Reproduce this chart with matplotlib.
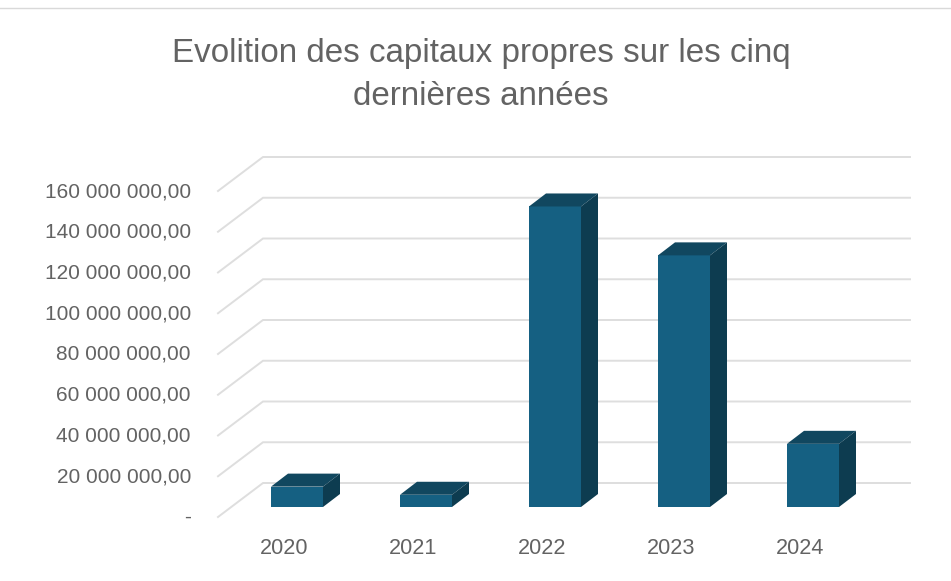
import matplotlib
matplotlib.use('Agg')
import matplotlib.pyplot as plt
from matplotlib.patches import Polygon

#### data
years = ['2020', '2021', '2022', '2023', '2024']
capitaux = [10000000, 6000000, 147500000, 123500000, 31000000]
y_ticks = [0, 20000000, 40000000, 60000000, 80000000, 100000000, 120000000, 140000000, 160000000]
y_labels = ['-', '20 000 000,00', '40 000 000,00', '60 000 000,00', '80 000 000,00',
            '100 000 000,00', '120 000 000,00', '140 000 000,00', '160 000 000,00']

W, H = 951, 581
PX_X = 129.0               # pixels per category
PX_Y = 40.75 / 20000000    # pixels per unit of value

plt.rcParams['font.family'] = ['Liberation Sans', 'DejaVu Sans']
fig = plt.figure(figsize=(W / 100, H / 100), dpi=100)
ax = fig.add_axes([0, 0, 1, 1])
# category 0 is centred on x=297, value 0 of the bars sits on y=507
ax.set_xlim(-297 / PX_X, (W - 297) / PX_X)
ax.set_ylim(-(H - 507) / PX_Y, 507 / PX_Y)
ax.axis('off')

dx = lambda px: px / PX_X
dy = lambda px: px / PX_Y

grid = '#dedede'
text = '#636363'
front, top, side = '#156082', '#11475f', '#0d3c50'

#### walls
x0 = -34 / PX_X            # back wall left edge (x=263)
x1 = (910 - 297) / PX_X    # right edge
for v, lab in zip(y_ticks, y_labels):
    back = v + dy(24)
    ax.plot([x0 - dx(45), x0, x1], [back - dy(34), back, back], color=grid, lw=1.4,
            solid_joinstyle='miter', zorder=1)
    ax.text(-106 / PX_X, back - dy(34) - dy(0.5), lab, ha='right', va='center',
            fontsize=15, color=text)

#### bars
bw = dx(52)
for i, v in enumerate(capitaux):
    xl, xr = i - bw / 2, i + bw / 2
    ax.bar(i, v, width=bw, color=front, zorder=3)
    ax.add_patch(Polygon([(xl, v), (xr, v), (xr + dx(17), v + dy(13)), (xl + dx(17), v + dy(13))],
                         closed=True, facecolor=top, edgecolor='none', zorder=3))
    ax.add_patch(Polygon([(xr, 0), (xr + dx(17), dy(13)), (xr + dx(17), v + dy(13)), (xr, v)],
                         closed=True, facecolor=side, edgecolor='none', zorder=3))
    ax.text(i - dx(13), -dy(41.5), years[i], ha='center', va='center', fontsize=15.6, color=text)

#### title and top rule
ax.text(dx(481 - 297), dy(507 - 53.5), 'Evolition des capitaux propres sur les cinq', ha='center', va='center',
        fontsize=23.9, color=text)
ax.text(dx(481 - 297), dy(507 - 96.5), 'dernières années', ha='center', va='center',
        fontsize=23.9, color=text)
ax.plot([-297 / PX_X, (W - 297) / PX_X], [dy(507 - 8)] * 2, color='#d9d9d9', lw=1)

fig.savefig('out.png', dpi=100)
